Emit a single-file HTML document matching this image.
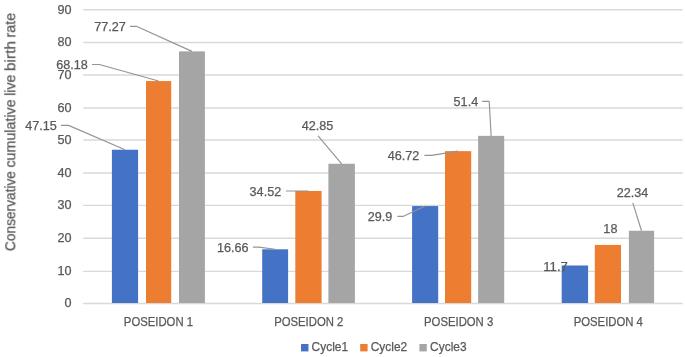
<!DOCTYPE html>
<html lang="en"><head><meta charset="utf-8"><title>Conservative cumulative live birth rate</title>
<style>html,body{margin:0;padding:0;background:#fff;overflow:hidden}svg{display:block;will-change:transform;opacity:.999}text{filter:blur(0.3px);stroke:#595959;stroke-width:0.25px;font-family:"Liberation Sans",sans-serif;fill:#595959}</style></head><body>
<svg width="685" height="357" viewBox="0 0 685 357">
<rect width="685" height="357" fill="#fff"/>
<line x1="83.20" y1="303.55" x2="682.80" y2="303.55" stroke="#D9D9D9" stroke-width="1.45"/>
<line x1="83.20" y1="271.39" x2="682.80" y2="271.39" stroke="#D9D9D9" stroke-width="1.45"/>
<line x1="83.20" y1="238.32" x2="682.80" y2="238.32" stroke="#D9D9D9" stroke-width="1.45"/>
<line x1="83.20" y1="205.39" x2="682.80" y2="205.39" stroke="#D9D9D9" stroke-width="1.45"/>
<line x1="83.20" y1="173.05" x2="682.80" y2="173.05" stroke="#D9D9D9" stroke-width="1.45"/>
<line x1="83.20" y1="140.05" x2="682.80" y2="140.05" stroke="#D9D9D9" stroke-width="1.45"/>
<line x1="83.20" y1="107.90" x2="682.80" y2="107.90" stroke="#D9D9D9" stroke-width="1.45"/>
<line x1="83.20" y1="74.98" x2="682.80" y2="74.98" stroke="#D9D9D9" stroke-width="1.45"/>
<line x1="83.20" y1="42.55" x2="682.80" y2="42.55" stroke="#D9D9D9" stroke-width="1.45"/>
<line x1="83.20" y1="9.66" x2="682.80" y2="9.66" stroke="#D9D9D9" stroke-width="1.45"/>
<text x="71.6" y="307.45" font-size="12.15" text-anchor="end" textLength="7.03" lengthAdjust="spacingAndGlyphs">0</text>
<text x="71.6" y="275.29" font-size="12.15" text-anchor="end" textLength="14.06" lengthAdjust="spacingAndGlyphs">10</text>
<text x="71.6" y="242.22" font-size="12.15" text-anchor="end" textLength="14.06" lengthAdjust="spacingAndGlyphs">20</text>
<text x="71.6" y="209.29" font-size="12.15" text-anchor="end" textLength="14.06" lengthAdjust="spacingAndGlyphs">30</text>
<text x="71.6" y="176.95" font-size="12.15" text-anchor="end" textLength="14.06" lengthAdjust="spacingAndGlyphs">40</text>
<text x="71.6" y="143.95" font-size="12.15" text-anchor="end" textLength="14.06" lengthAdjust="spacingAndGlyphs">50</text>
<text x="71.6" y="111.80" font-size="12.15" text-anchor="end" textLength="14.06" lengthAdjust="spacingAndGlyphs">60</text>
<text x="71.6" y="78.88" font-size="12.15" text-anchor="end" textLength="14.06" lengthAdjust="spacingAndGlyphs">70</text>
<text x="71.6" y="46.45" font-size="12.15" text-anchor="end" textLength="14.06" lengthAdjust="spacingAndGlyphs">80</text>
<text x="71.6" y="13.56" font-size="12.15" text-anchor="end" textLength="14.06" lengthAdjust="spacingAndGlyphs">90</text>
<rect x="111.90" y="149.73" width="26.20" height="153.27" fill="#4472C4"/>
<rect x="146.00" y="81.06" width="25.20" height="221.94" fill="#ED7D31"/>
<rect x="179.00" y="51.37" width="25.90" height="251.63" fill="#A5A5A5"/>
<rect x="262.20" y="249.30" width="25.90" height="53.70" fill="#4472C4"/>
<rect x="295.30" y="190.97" width="26.30" height="112.03" fill="#ED7D31"/>
<rect x="328.40" y="163.77" width="26.50" height="139.23" fill="#A5A5A5"/>
<rect x="412.10" y="206.06" width="26.10" height="96.94" fill="#4472C4"/>
<rect x="445.00" y="151.14" width="26.20" height="151.86" fill="#ED7D31"/>
<rect x="478.10" y="135.85" width="26.10" height="167.15" fill="#A5A5A5"/>
<rect x="561.70" y="265.49" width="26.40" height="37.51" fill="#4472C4"/>
<rect x="594.80" y="244.92" width="26.20" height="58.08" fill="#ED7D31"/>
<rect x="628.90" y="230.75" width="25.20" height="72.25" fill="#A5A5A5"/>
<text x="158.45" y="326" font-size="12.1" text-anchor="middle" textLength="69.22" lengthAdjust="spacingAndGlyphs">POSEIDON 1</text>
<text x="308.75" y="326" font-size="12.1" text-anchor="middle" textLength="69.22" lengthAdjust="spacingAndGlyphs">POSEIDON 2</text>
<text x="458.65" y="326" font-size="12.1" text-anchor="middle" textLength="69.22" lengthAdjust="spacingAndGlyphs">POSEIDON 3</text>
<text x="608.30" y="326" font-size="12.1" text-anchor="middle" textLength="69.22" lengthAdjust="spacingAndGlyphs">POSEIDON 4</text>
<polyline points="61.00,125.40 68.60,125.40 125.00,149.73" fill="none" stroke="#949494" stroke-width="1.15" stroke-linejoin="round"/>
<text x="41.10" y="129.55" font-size="12.15" text-anchor="middle" textLength="31.62" lengthAdjust="spacingAndGlyphs">47.15</text>
<polyline points="92.00,64.50 99.40,64.50 158.60,81.06" fill="none" stroke="#949494" stroke-width="1.15" stroke-linejoin="round"/>
<text x="72.00" y="69.35" font-size="12.15" text-anchor="middle" textLength="31.62" lengthAdjust="spacingAndGlyphs">68.18</text>
<polyline points="130.00,26.40 136.90,26.40 191.95,51.37" fill="none" stroke="#949494" stroke-width="1.15" stroke-linejoin="round"/>
<text x="110.00" y="31.35" font-size="12.15" text-anchor="middle" textLength="31.62" lengthAdjust="spacingAndGlyphs">77.27</text>
<polyline points="252.90,247.15 258.60,247.15 275.15,249.30" fill="none" stroke="#949494" stroke-width="1.15" stroke-linejoin="round"/>
<text x="232.80" y="252.15" font-size="12.15" text-anchor="middle" textLength="31.62" lengthAdjust="spacingAndGlyphs">16.66</text>
<polyline points="285.90,191.00 291.10,191.00 308.45,190.97" fill="none" stroke="#949494" stroke-width="1.15" stroke-linejoin="round"/>
<text x="265.40" y="195.75" font-size="12.15" text-anchor="middle" textLength="31.62" lengthAdjust="spacingAndGlyphs">34.52</text>
<polyline points="397.40,216.40 403.00,216.40 425.15,206.06" fill="none" stroke="#949494" stroke-width="1.15" stroke-linejoin="round"/>
<text x="380.10" y="221.25" font-size="12.15" text-anchor="middle" textLength="24.59" lengthAdjust="spacingAndGlyphs">29.9</text>
<polyline points="424.40,155.40 431.70,155.40 458.10,151.14" fill="none" stroke="#949494" stroke-width="1.15" stroke-linejoin="round"/>
<text x="403.50" y="159.65" font-size="12.15" text-anchor="middle" textLength="31.62" lengthAdjust="spacingAndGlyphs">46.72</text>
<polyline points="482.20,101.30 489.20,101.30 491.15,135.85" fill="none" stroke="#949494" stroke-width="1.15" stroke-linejoin="round"/>
<text x="465.90" y="105.65" font-size="12.15" text-anchor="middle" textLength="24.59" lengthAdjust="spacingAndGlyphs">51.4</text>
<line x1="318.1" y1="135.8" x2="341.65" y2="163.77" stroke="#949494" stroke-width="1.15"/>
<text x="317.50" y="129.85" font-size="12.15" text-anchor="middle" textLength="31.62" lengthAdjust="spacingAndGlyphs">42.85</text>
<line x1="632.8" y1="202.8" x2="641.50" y2="230.75" stroke="#949494" stroke-width="1.15"/>
<text x="632.60" y="196.75" font-size="12.15" text-anchor="middle" textLength="31.62" lengthAdjust="spacingAndGlyphs">22.34</text>
<text x="610.40" y="233.05" font-size="12.15" text-anchor="middle" textLength="14.06" lengthAdjust="spacingAndGlyphs">18</text>
<text x="555.60" y="270.85" font-size="12.15" text-anchor="middle" textLength="24.59" lengthAdjust="spacingAndGlyphs">11.7</text>
<g transform="translate(15.25,251.1) rotate(-90)">
<text x="0.00" y="0" font-size="13.75" textLength="80.00" lengthAdjust="spacingAndGlyphs">Conservative</text>
<text x="83.45" y="0" font-size="13.75" textLength="68.27" lengthAdjust="spacingAndGlyphs">cumulative</text>
<text x="155.17" y="0" font-size="13.75" textLength="21.37" lengthAdjust="spacingAndGlyphs">live</text>
<text x="179.99" y="0" font-size="13.75" textLength="30.01" lengthAdjust="spacingAndGlyphs">birth</text>
<text x="213.45" y="0" font-size="13.75" textLength="24.75" lengthAdjust="spacingAndGlyphs">rate</text>
</g>
<rect x="301.05" y="344.0" width="7.4" height="7.4" fill="#4472C4"/>
<text x="311.60" y="351.1" font-size="12.3" textLength="36.48" lengthAdjust="spacingAndGlyphs">Cycle1</text>
<rect x="360.20" y="344.0" width="7.4" height="7.4" fill="#ED7D31"/>
<text x="370.70" y="351.1" font-size="12.3" textLength="36.48" lengthAdjust="spacingAndGlyphs">Cycle2</text>
<rect x="419.40" y="344.0" width="7.4" height="7.4" fill="#A5A5A5"/>
<text x="430.10" y="351.1" font-size="12.3" textLength="36.48" lengthAdjust="spacingAndGlyphs">Cycle3</text>
</svg></body></html>
